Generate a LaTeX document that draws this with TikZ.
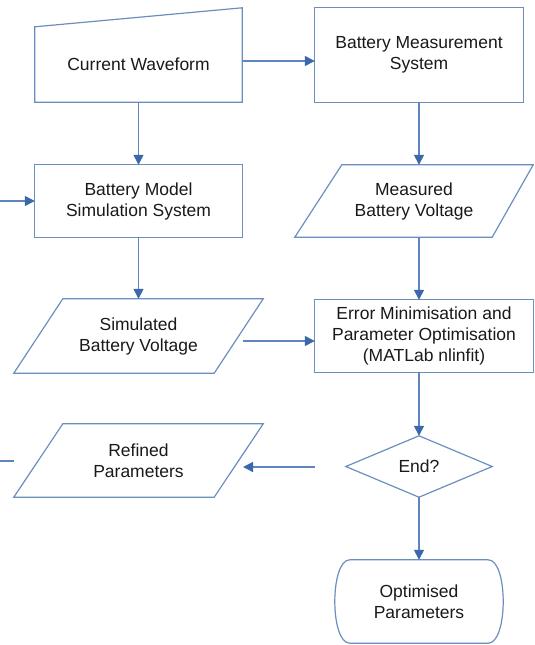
\documentclass[tikz,border=0pt]{standalone}
\usepackage{fontspec}
\setmainfont{Liberation Sans}
\usetikzlibrary{arrows.meta,shapes.geometric}
\definecolor{boxc}{RGB}{108,142,191}
\definecolor{linec}{RGB}{95,133,190}
\definecolor{headc}{RGB}{58,104,170}
\definecolor{txtc}{RGB}{25,25,25}
\tikzset{
  holder/.style={draw=none, inner sep=0pt, align=center, text=txtc,
    font=\fontsize{17.5}{21}\selectfont},
  outline/.style={draw=boxc, line width=1.2pt, line join=miter},
  arr/.style={draw=linec, line width=1.4pt,
    -{Triangle[length=10pt,width=10pt,color=headc]}},
  plain/.style={draw=linec, line width=1.4pt},
}
\begin{document}
\begin{tikzpicture}[x=1pt,y=-1pt]
\useasboundingbox (0,0) rectangle (535,645);

% nodes
\node[holder, minimum width=207pt, minimum height=75pt] (cw) at (138.5,64.5) {Current Waveform};
\node[holder, minimum width=208pt, minimum height=94pt] (bms) at (419,55) {Battery Measurement\\System};
\node[holder, minimum width=207pt, minimum height=72pt] (bmss) at (138.5,201) {Battery Model\\Simulation System};
\node[holder, minimum width=238pt, minimum height=72pt] (mbv) at (414,201) {Measured\\Battery Voltage};
\node[holder, minimum width=249pt, minimum height=74pt] (sbv) at (138.5,336) {Simulated\\Battery Voltage};
\node[holder, minimum width=218pt, minimum height=72pt] (err) at (424,336) {Error Minimisation and\\Parameter Optimisation\\(MATLab nlinfit)};
\node[holder, minimum width=249pt, minimum height=73pt] (rp) at (138.5,460.5) {Refined\\Parameters};
\node[holder, minimum width=146pt, minimum height=61pt] (end) at (419,466.5) {End?};
\node[holder, minimum width=168pt, minimum height=83pt] (term) at (419,601.5) {Optimised\\Parameters};

% shapes
\draw[outline] (cw.north west) -- ([yshift=19pt]cw.north east) -- (cw.south east) -- (cw.south west) -- cycle;
\draw[outline] (bms.north west) rectangle (bms.south east);
\draw[outline] (bmss.north west) rectangle (bmss.south east);
\draw[outline] ([xshift=47pt]mbv.north west) -- (mbv.north east) -- ([xshift=-41pt]mbv.south east) -- (mbv.south west) -- cycle;
\draw[outline] ([xshift=49pt]sbv.north west) -- (sbv.north east) -- ([xshift=-49pt]sbv.south east) -- (sbv.south west) -- cycle;
\draw[outline] (err.north west) rectangle (err.south east);
\draw[outline] ([xshift=49pt]rp.north west) -- (rp.north east) -- ([xshift=-49pt]rp.south east) -- (rp.south west) -- cycle;
\draw[outline] (end.north) -- (end.east) -- (end.south) -- (end.west) -- cycle;
\draw[outline] ([xshift=15pt]term.north west) -- ([xshift=-15pt]term.north east)
  .. controls ([xshift=5pt]term.north east) and ([xshift=5pt]term.south east) .. ([xshift=-15pt]term.south east)
  -- ([xshift=15pt]term.south west)
  .. controls ([xshift=-5pt]term.south west) and ([xshift=-5pt]term.north west) .. ([xshift=15pt]term.north west) -- cycle;

% free ends
\coordinate (inL) at (0,201);
\coordinate (outL) at (0,461);
\coordinate (rpTail) at (315,467);
\coordinate (rpTip) at (243,467);
\coordinate (sbvTail) at (243,341);

% connectors
\draw[arr] ([yshift=3.5pt]cw.east) -- ([yshift=-6pt]bms.west);
\draw[arr] (cw.south) -- (bmss.north);
\draw[arr] (inL) -- (bmss.west);
\draw[arr] (bms.south) -- (bms.south |- mbv.north);
\draw[arr] (bmss.south) -- (sbv.north);
\draw[arr] (bms.south |- mbv.south) -- (bms.south |- err.north);
\draw[arr] (sbvTail) -- (sbvTail -| err.west);
\draw[arr] (bms.south |- err.south) -- (end.north);
\draw[arr] (rpTail) -- (rpTip);
\draw[plain] ([yshift=-0.5pt]rp.west) -- (outL);
\draw[arr] (end.south) -- (term.north);
\end{tikzpicture}
\end{document}
